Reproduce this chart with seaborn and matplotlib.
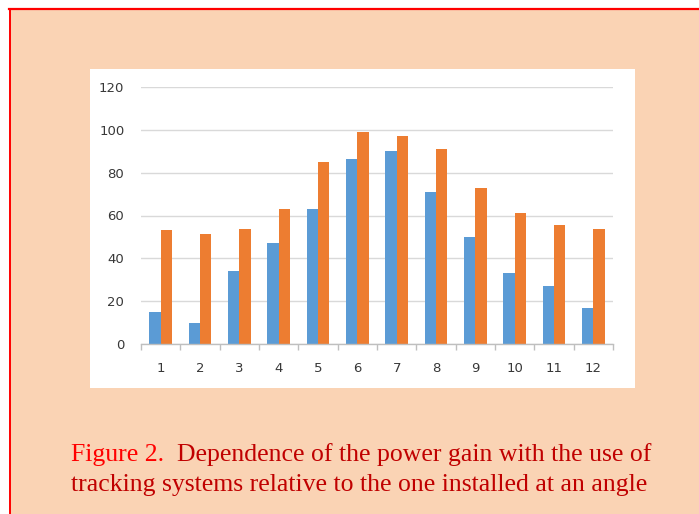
import numpy as np
import pandas as pd
import seaborn as sns
import matplotlib.pyplot as plt
from matplotlib.patches import Rectangle
from matplotlib.lines import Line2D

# values
months = ['1', '2', '3', '4', '5', '6', '7', '8', '9', '10', '11', '12']
fixed_gain = [15, 10, 34, 47, 63, 86.5, 90, 71, 50, 33, 27, 17]
tracking_gain = [53, 51.5, 53.5, 63, 85, 99, 97, 91, 73, 61, 55.5, 53.5]
series_names = ['Fixed', 'Tracking']
yticks = [0, 20, 40, 60, 80, 100, 120]

caption_head = 'Figure 2.'
caption_line1 = 'Figure 2.  Dependence of the power gain with the use of'
caption_line2 = 'tracking systems relative to the one installed at an angle'

df = pd.DataFrame({
    'month': months * 2,
    'value': fixed_gain + tracking_gain,
    'series': [series_names[0]] * len(months) + [series_names[1]] * len(months),
})

W, H = 699, 514
fig = plt.figure(figsize=(W / 100, H / 100), dpi=100)
fig.patch.set_facecolor('white')

# peach page with red frame
fig.patches.append(Rectangle((10 / W, 0), 1 - 10 / W, 1 - 9 / H, transform=fig.transFigure,
                             facecolor='#FAD3B4', edgecolor='none', zorder=-3))
fig.lines.append(Line2D([9 / W, 1], [1 - 8.7 / H] * 2, transform=fig.transFigure,
                        color='#FF0000', lw=1.6, zorder=-2))
fig.lines.append(Line2D([9.8 / W] * 2, [0, 1 - 8.7 / H], transform=fig.transFigure,
                        color='#FF0000', lw=1.4, zorder=-2))
# white chart panel
fig.patches.append(Rectangle((90 / W, 1 - 388 / H), 545 / W, 319 / H, transform=fig.transFigure,
                             facecolor='white', edgecolor='none', zorder=-1))

ax = fig.add_axes([141 / W, 1 - 344 / H, 472 / W, 257 / H])
ax.set_facecolor('none')

sns.barplot(data=df, x='month', y='value', hue='series', palette=['#5B9BD5', '#ED7D31'],
            width=0.575, gap=0, saturation=1, legend=False, ax=ax, zorder=3)

ax.set_xlim(-0.5, len(months) - 0.5)
ax.set_ylim(0, 120)
ax.set_yticks(yticks)
ax.set_xlabel('')
ax.set_ylabel('')
ax.yaxis.grid(True, color='#D9D9D9', lw=1)
ax.set_axisbelow(True)
for s in ['left', 'top', 'right']:
    ax.spines[s].set_visible(False)
ax.spines['bottom'].set_color('#BFBFBF')
ax.spines['bottom'].set_linewidth(1)
ax.spines['bottom'].set_zorder(4)

ax.set_xticks(np.arange(-0.5, len(months), 1), minor=True)
ax.tick_params(axis='x', which='minor', length=4.5, width=1, color='#BFBFBF', direction='out')
ax.tick_params(axis='x', which='major', length=0, pad=13, labelsize=9.5, labelcolor='#383838')
ax.tick_params(axis='y', length=0, pad=12, labelsize=9.5, labelcolor='#383838')

# caption, first words brighter red
cap_font = dict(family='Liberation Serif', size=18.5)
renderer = fig.canvas.get_renderer()
tmp = fig.text(0.5, 0.5, caption_line1, **cap_font)
full_w = tmp.get_window_extent(renderer).width / W
tmp.remove()
cx = 361 / W
y1 = 1 - 461.5 / H
fig.text(cx - full_w / 2, y1, caption_head, ha='left', va='baseline', color='#FF0000', **cap_font)
fig.text(cx + full_w / 2, y1, caption_line1[len(caption_head):].strip(), ha='right', va='baseline',
         color='#C00000', **cap_font)
fig.text(359 / W, 1 - 491.5 / H, caption_line2, ha='center', va='baseline', color='#C00000', **cap_font)

fig.savefig('out.png', dpi=100)
